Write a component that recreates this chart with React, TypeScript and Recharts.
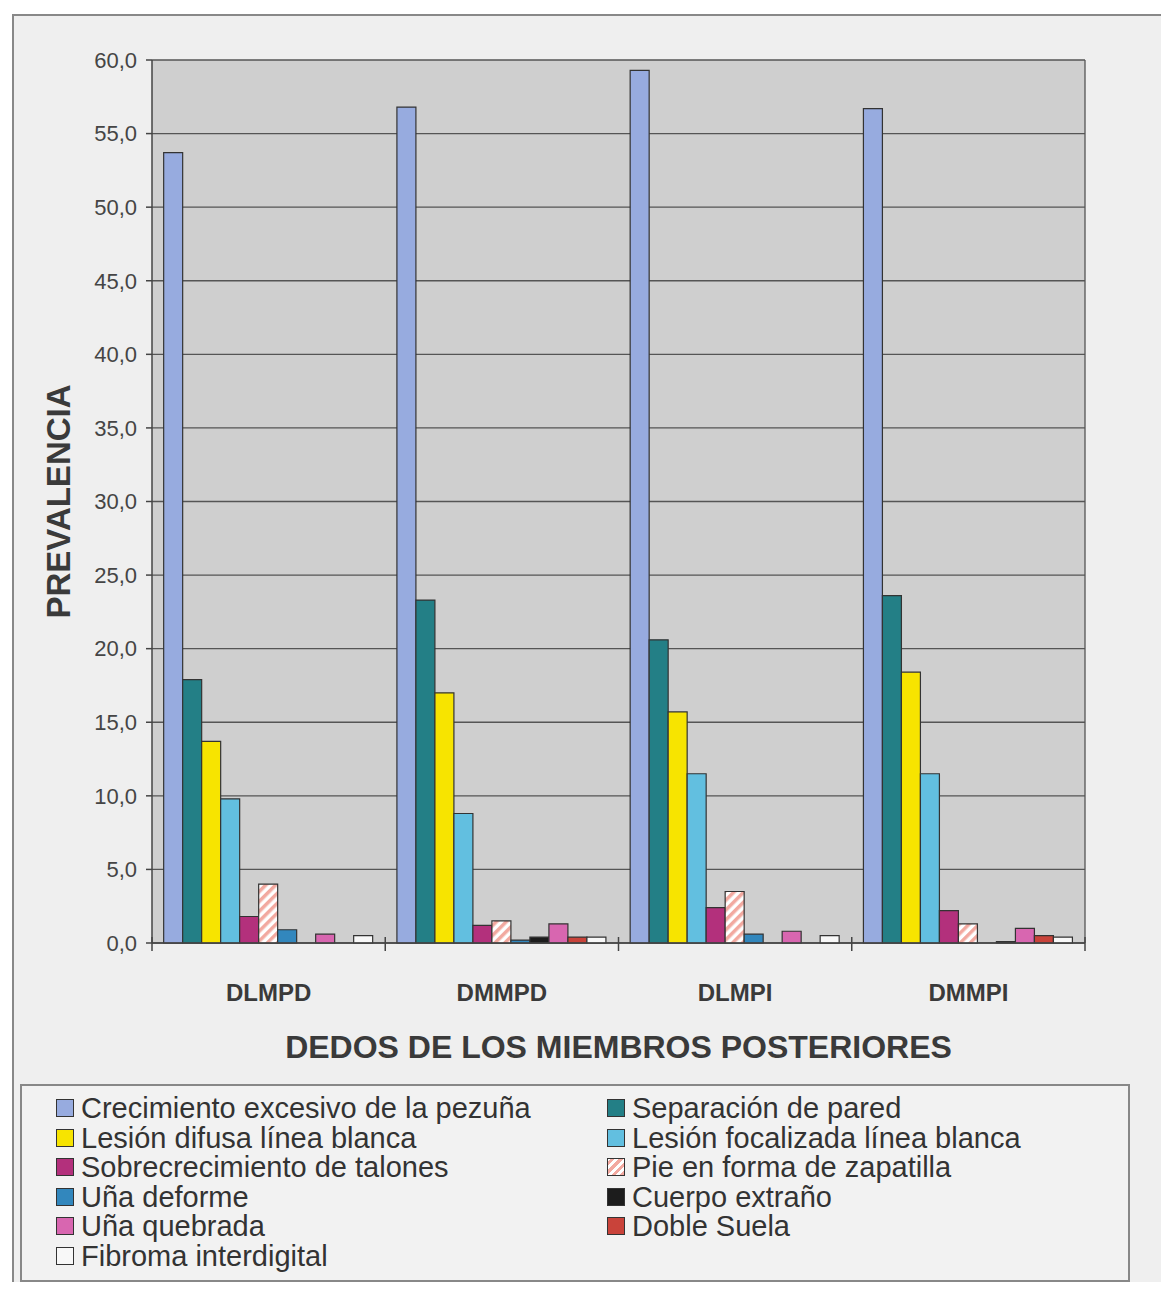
import React from 'react';
import { BarChart, Bar, XAxis, YAxis, CartesianGrid } from 'recharts';

// Categorías (dedos) y valores de prevalencia
const categories = ['DLMPD', 'DMMPD', 'DLMPI', 'DMMPI'];

const crecimiento = [53.7, 56.8, 59.3, 56.7];
const separacion = [17.9, 23.3, 20.6, 23.6];
const difusa = [13.7, 17.0, 15.7, 18.4];
const focalizada = [9.8, 8.8, 11.5, 11.5];
const sobrecrecimiento = [1.8, 1.2, 2.4, 2.2];
const zapatilla = [4.0, 1.5, 3.5, 1.3];
const deforme = [0.9, 0.2, 0.6, 0.0];
const cuerpo = [0.0, 0.4, 0.0, 0.1];
const quebrada = [0.6, 1.3, 0.8, 1.0];
const dobleSuela = [0.0, 0.4, 0.0, 0.5];
const fibroma = [0.5, 0.4, 0.5, 0.4];

const yTicks = [0, 5, 10, 15, 20, 25, 30, 35, 40, 45, 50, 55, 60];

const series = [
  { key: 'crecimiento', name: 'Crecimiento excesivo de la pezuña', values: crecimiento, color: '#97abdf' },
  { key: 'separacion', name: 'Separación de pared', values: separacion, color: '#237f86' },
  { key: 'difusa', name: 'Lesión difusa línea blanca', values: difusa, color: '#f7e400' },
  { key: 'focalizada', name: 'Lesión focalizada línea blanca', values: focalizada, color: '#62bfe0' },
  { key: 'sobrecrecimiento', name: 'Sobrecrecimiento de talones', values: sobrecrecimiento, color: '#b3307c' },
  { key: 'zapatilla', name: 'Pie en forma de zapatilla', values: zapatilla, color: 'url(#hatch)' },
  { key: 'deforme', name: 'Uña deforme', values: deforme, color: '#3287bd' },
  { key: 'cuerpo', name: 'Cuerpo extraño', values: cuerpo, color: '#1c1c1c' },
  { key: 'quebrada', name: 'Uña quebrada', values: quebrada, color: '#d866b0' },
  { key: 'dobleSuela', name: 'Doble Suela', values: dobleSuela, color: '#c9433a' },
  { key: 'fibroma', name: 'Fibroma interdigital', values: fibroma, color: '#f8f8f8' },
];

const data = categories.map((cat, i) => {
  const row: Record<string, string | number> = { cat };
  series.forEach(s => { row[s.key] = s.values[i]; });
  return row;
});

const FONT = 'Arial, "Liberation Sans", sans-serif';

const XTick = (props: any) => {
  const { x, y, payload, index, visibleTicksCount } = props;
  const half = payload.offset ?? 0;
  const last = index === (visibleTicksCount ?? 4) - 1;
  return (
    <g>
      {half > 0 && <line x1={x - half} x2={x - half} y1={y - 6} y2={y + 8} stroke="#444" strokeWidth={1.5} />}
      {half > 0 && last && <line x1={x + half} x2={x + half} y1={y - 6} y2={y + 8} stroke="#444" strokeWidth={1.5} />}
      <text x={x} y={y + 49} textAnchor="middle" dominantBaseline="central"
        fontFamily={FONT} fontWeight="bold" fontSize={24} fill="#3a3a3a">
        {payload.value}
      </text>
    </g>
  );
};

const Swatch = ({ color }: { color: string }) => {
  const bg = color === 'url(#hatch)'
    ? 'repeating-linear-gradient(-45deg, #f2a9a0 0 3px, #ffffff 3px 6px)'
    : color;
  return (
    <span style={{
      display: 'inline-block', width: 16, height: 16, border: '1.5px solid #333',
      background: bg, marginRight: 7, verticalAlign: 'middle', position: 'relative', top: -2,
    }} />
  );
};

export default function App() {
  return (
    <div style={{ position: 'absolute', left: 0, top: 0, width: 1161, height: 1291, background: '#fff', overflow: 'hidden' }}>
      <div style={{
        position: 'absolute', left: 12, top: 14, width: 1170, height: 1266,
        borderLeft: '2px solid #888', borderTop: '2px solid #888', background: '#efefef',
      }} />
      <div style={{ position: 'absolute', left: 0, top: 0 }}>
        <BarChart width={1161} height={1070} data={data}
          margin={{ top: 60, right: 76, left: 40, bottom: 0 }}
          barCategoryGap="5%" barGap={0}>
          <defs>
            <pattern id="hatch" width="7" height="7" patternUnits="userSpaceOnUse" patternTransform="rotate(45)">
              <rect width="7" height="7" fill="#ffffff" />
              <rect width="3.5" height="7" fill="#f2a9a0" />
            </pattern>
          </defs>
          <CartesianGrid fill="#cfcfcf" stroke="#555" strokeWidth={1.3}
            vertical={true}
            verticalCoordinatesGenerator={({ offset }: any) => [offset.left + offset.width]} />
          <XAxis dataKey="cat" height={127} axisLine={{ stroke: '#444', strokeWidth: 1.5 }}
            tickLine={false} tickSize={0} tickMargin={0} interval={0} tick={<XTick />}
            label={{
              value: 'DEDOS DE LOS MIEMBROS POSTERIORES', position: 'insideBottom', offset: 12,
              style: { fontFamily: FONT, fontWeight: 'bold', fontSize: 32, fill: '#3a3a3a' },
            }} />
          <YAxis width={112} domain={[0, 60]} ticks={yTicks} interval={0}
            tickFormatter={(v: number) => v.toFixed(1).replace('.', ',')}
            axisLine={{ stroke: '#444', strokeWidth: 1.5 }}
            tickLine={{ stroke: '#444', strokeWidth: 1.5 }} tickSize={6} tickMargin={9}
            tick={{ fontFamily: FONT, fontSize: 22, fill: '#454545' }}
            label={{
              value: 'PREVALENCIA', angle: -90, position: 'insideLeft', offset: 18,
              style: { textAnchor: 'middle', fontFamily: FONT, fontWeight: 'bold', fontSize: 33, fill: '#3a3a3a' },
            }} />
          {series.map(s => (
            <Bar key={s.key} dataKey={s.key} name={s.name} fill={s.color}
              stroke="#333" strokeWidth={1.2} isAnimationActive={false} />
          ))}
        </BarChart>
      </div>
      <div style={{
        position: 'absolute', left: 20, top: 1084, width: 1106, height: 194,
        border: '2px solid #888', background: '#f2f2f2', fontFamily: FONT, fontSize: 29, color: '#333',
      }}>
        {series.map((s, i) => (
          <div key={s.key} style={{
            position: 'absolute', left: i % 2 === 0 ? 34 : 585, top: 8 + Math.floor(i / 2) * 29.5,
            height: 28, lineHeight: '28px', whiteSpace: 'nowrap',
          }}>
            <Swatch color={s.color} />{s.name}
          </div>
        ))}
      </div>
    </div>
  );
}
